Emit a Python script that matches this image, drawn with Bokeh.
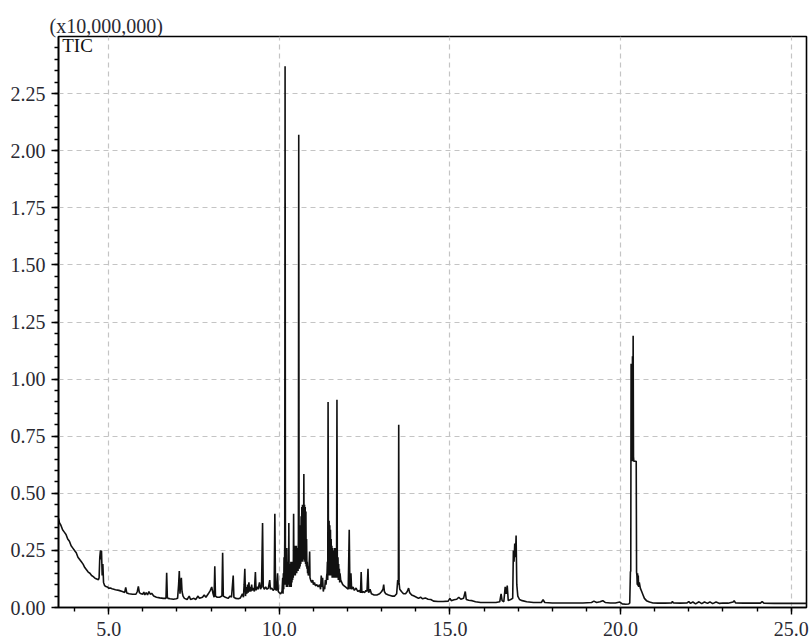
from bokeh.plotting import figure
from bokeh.models import FixedTicker, NumeralTickFormatter, Label, Range1d, ColumnDataSource, Title
from bokeh.embed import file_html
from bokeh.resources import INLINE

# ---- axis ticks / labels ----
x_major = [5, 10, 15, 20, 25]
x_minor = [4, 5, 6, 7, 8, 9, 10, 11, 12, 13, 14, 15, 16, 17, 18, 19, 20, 21, 22, 23, 24, 25]
y_major = [0.0, 0.25, 0.5, 0.75, 1.0, 1.25, 1.5, 1.75, 2.0, 2.25]
y_minor = [0.0, 0.05, 0.1, 0.15, 0.2, 0.25, 0.3, 0.35, 0.4, 0.45, 0.5, 0.55, 0.6, 0.65, 0.7,
           0.75, 0.8, 0.85, 0.9, 0.95, 1.0, 1.05, 1.1, 1.15, 1.2, 1.25, 1.3, 1.35, 1.4, 1.45,
           1.5, 1.55, 1.6, 1.65, 1.7, 1.75, 1.8, 1.85, 1.9, 1.95, 2.0, 2.05, 2.1, 2.15, 2.2,
           2.25, 2.3, 2.35, 2.4, 2.45]
scale_text = "(x10,000,000)"
trace_name = "TIC"

# ---- chromatogram (retention time in min, intensity in units of 1e7) ----
rt_a = [3.53, 3.56, 3.60, 3.65, 3.70, 3.75, 3.80, 3.85, 3.90, 3.95,
        4.00, 4.05, 4.10, 4.15, 4.20, 4.25, 4.30, 4.35, 4.40, 4.45,
        4.50, 4.55, 4.60, 4.65, 4.70, 4.72, 4.74, 4.76, 4.78, 4.79,
        4.81, 4.83, 4.85, 4.88, 4.92, 4.96, 5.00]
tic_a = [0.39, 0.37, 0.36, 0.34, 0.33, 0.32, 0.30, 0.29, 0.27, 0.26,
         0.25, 0.24, 0.22, 0.21, 0.20, 0.19, 0.175, 0.165, 0.155, 0.15,
         0.14, 0.135, 0.128, 0.125, 0.122, 0.13, 0.22, 0.25, 0.21, 0.25,
         0.14, 0.19, 0.11, 0.096, 0.092, 0.09, 0.085]

rt_b = [5.05, 5.10, 5.20, 5.30, 5.40, 5.47, 5.50, 5.53, 5.60, 5.70,
        5.80, 5.84, 5.87, 5.90, 5.95, 6.00, 6.03, 6.06, 6.10, 6.14,
        6.18, 6.22, 6.26, 6.32, 6.40, 6.50, 6.60, 6.68, 6.70, 6.72,
        6.74, 6.80, 6.90, 6.98]
tic_b = [0.085, 0.082, 0.078, 0.075, 0.07, 0.066, 0.088, 0.064, 0.06, 0.058,
         0.058, 0.07, 0.092, 0.065, 0.06, 0.058, 0.068, 0.055, 0.065, 0.055,
         0.07, 0.058, 0.062, 0.05, 0.045, 0.042, 0.04, 0.04, 0.152, 0.045,
         0.04, 0.038, 0.036, 0.038]

rt_c = [7.02, 7.05, 7.07, 7.09, 7.11, 7.13, 7.15, 7.18, 7.22, 7.30,
        7.36, 7.40, 7.50, 7.55, 7.62, 7.66, 7.75, 7.80, 7.85, 7.92,
        7.98, 8.02, 8.06, 8.09, 8.11, 8.13, 8.18, 8.25, 8.32, 8.34,
        8.36, 8.42, 8.50, 8.56, 8.60, 8.65, 8.67, 8.72, 8.80, 8.86,
        8.92, 8.95, 8.97, 8.99, 9.01, 9.03, 9.05, 9.07, 9.09, 9.11,
        9.13, 9.15, 9.17, 9.19, 9.21, 9.24, 9.27, 9.30, 9.32, 9.35,
        9.38, 9.42, 9.45, 9.48, 9.51, 9.53, 9.56, 9.60, 9.64, 9.68,
        9.72, 9.74, 9.78, 9.82, 9.85, 9.87, 9.89, 9.92, 9.95, 9.97,
        10.00, 10.04, 10.08]
tic_c = [0.04, 0.10, 0.16, 0.06, 0.10, 0.13, 0.07, 0.05, 0.04, 0.035,
         0.05, 0.035, 0.04, 0.035, 0.05, 0.04, 0.045, 0.055, 0.045, 0.06,
         0.075, 0.09, 0.06, 0.045, 0.18, 0.05, 0.045, 0.045, 0.05, 0.24,
         0.05, 0.045, 0.04, 0.05, 0.045, 0.14, 0.045, 0.04, 0.038, 0.042,
         0.06, 0.045, 0.10, 0.17, 0.05, 0.09, 0.06, 0.10, 0.065, 0.11,
         0.07, 0.09, 0.07, 0.10, 0.075, 0.085, 0.07, 0.155, 0.075, 0.09,
         0.08, 0.11, 0.08, 0.09, 0.37, 0.09, 0.08, 0.09, 0.08, 0.085,
         0.12, 0.08, 0.085, 0.075, 0.08, 0.41, 0.08, 0.075, 0.15, 0.07,
         0.065, 0.06, 0.07]

rt_d = [10.10, 10.11, 10.12, 10.13, 10.14, 10.15, 10.16, 10.17, 10.18, 10.19,
        10.20, 10.21, 10.22, 10.23, 10.24, 10.25, 10.26, 10.27, 10.28, 10.29,
        10.30, 10.31, 10.32, 10.33, 10.34, 10.35, 10.36, 10.37, 10.38, 10.39,
        10.40, 10.41, 10.42, 10.43, 10.44, 10.45, 10.46, 10.47, 10.48, 10.49,
        10.50, 10.51, 10.52, 10.53, 10.54, 10.55, 10.56, 10.57, 10.58, 10.59,
        10.60, 10.61, 10.62, 10.63, 10.64, 10.65, 10.66, 10.67, 10.68, 10.69,
        10.70, 10.71, 10.72, 10.73, 10.74, 10.75, 10.76, 10.77, 10.78, 10.79,
        10.80, 10.81, 10.82, 10.83, 10.84, 10.85, 10.87, 10.89, 10.90, 10.92,
        10.95, 10.98]
tic_d = [0.13, 0.06, 0.15, 0.08, 0.22, 0.10, 0.30, 2.37, 0.26, 0.10,
         0.24, 0.09, 0.26, 0.10, 0.20, 0.09, 0.18, 0.10, 0.37, 0.10,
         0.17, 0.09, 0.19, 0.10, 0.20, 0.09, 0.16, 0.11, 0.20, 0.12,
         0.18, 0.13, 0.41, 0.14, 0.24, 0.15, 0.27, 0.14, 0.25, 0.16,
         0.27, 0.15, 0.24, 0.17, 0.26, 0.16, 0.30, 2.07, 0.33, 0.17,
         0.36, 0.18, 0.35, 0.19, 0.40, 0.20, 0.44, 0.21, 0.45, 0.20,
         0.43, 0.22, 0.585, 0.21, 0.45, 0.20, 0.44, 0.19, 0.42, 0.18,
         0.30, 0.17, 0.20, 0.15, 0.18, 0.14, 0.16, 0.245, 0.13, 0.12,
         0.11, 0.12]

rt_e = [11.00, 11.03, 11.06, 11.10, 11.14, 11.18, 11.21, 11.23, 11.25, 11.27,
        11.29, 11.31, 11.33, 11.35, 11.37, 11.39]
tic_e = [0.10, 0.11, 0.095, 0.10, 0.09, 0.10, 0.08, 0.14, 0.09, 0.13,
         0.07, 0.09, 0.08, 0.12, 0.10, 0.14]

rt_f = [11.40, 11.41, 11.42, 11.43, 11.44, 11.45, 11.46, 11.47, 11.48, 11.49,
        11.50, 11.51, 11.52, 11.53, 11.54, 11.55, 11.56, 11.57, 11.58, 11.59,
        11.60, 11.61, 11.62, 11.63, 11.64, 11.65, 11.66, 11.67, 11.68, 11.69,
        11.70, 11.71, 11.72, 11.73, 11.74, 11.75, 11.76, 11.77, 11.78, 11.80,
        11.83, 11.86, 11.90, 11.94, 11.98]
tic_f = [0.15, 0.20, 0.12, 0.90, 0.30, 0.14, 0.38, 0.15, 0.36, 0.14,
         0.34, 0.15, 0.30, 0.14, 0.27, 0.13, 0.26, 0.14, 0.24, 0.13,
         0.25, 0.14, 0.26, 0.13, 0.24, 0.14, 0.26, 0.13, 0.27, 0.91,
         0.22, 0.13, 0.22, 0.12, 0.19, 0.12, 0.17, 0.11, 0.15, 0.12,
         0.11, 0.10, 0.095, 0.09, 0.085]

rt_g = [12.02, 12.05, 12.07, 12.10, 12.12, 12.16, 12.20, 12.25, 12.30, 12.35,
        12.38, 12.40, 12.42, 12.46, 12.50, 12.54, 12.57, 12.60, 12.62, 12.66,
        12.70, 12.78, 12.86, 12.94, 13.00, 13.04, 13.06, 13.08, 13.12, 13.20,
        13.30, 13.38, 13.44, 13.47, 13.49, 13.50, 13.51, 13.53, 13.58, 13.64,
        13.70, 13.75, 13.79, 13.82, 13.88, 13.95]
tic_g = [0.08, 0.34, 0.08, 0.15, 0.08, 0.09, 0.075, 0.085, 0.07, 0.075,
         0.065, 0.155, 0.065, 0.07, 0.065, 0.075, 0.07, 0.17, 0.065, 0.08,
         0.06, 0.055, 0.055, 0.06, 0.07, 0.08, 0.10, 0.07, 0.06, 0.055,
         0.05, 0.05, 0.06, 0.12, 0.10, 0.80, 0.11, 0.08, 0.07, 0.06,
         0.06, 0.07, 0.085, 0.065, 0.055, 0.05]

rt_h = [14.02, 14.08, 14.14, 14.20, 14.28, 14.36, 14.44, 14.52, 14.65, 14.80,
        14.95, 15.00, 15.04, 15.12, 15.20, 15.26, 15.32, 15.40, 15.45, 15.48,
        15.55, 15.65, 15.75, 15.90, 16.05, 16.20, 16.35, 16.46, 16.50, 16.53,
        16.58, 16.62, 16.65, 16.68, 16.71, 16.78, 16.84, 16.86, 16.88, 16.90,
        16.92, 16.94, 16.96, 16.99, 17.04, 17.12, 17.25, 17.45, 17.68, 17.73,
        17.78, 18.00, 18.30, 18.60, 18.90, 19.15, 19.22, 19.30, 19.40, 19.48,
        19.55, 19.70, 19.85, 19.98, 20.05, 20.15, 20.24, 20.27]
tic_h = [0.045, 0.04, 0.045, 0.038, 0.042, 0.036, 0.035, 0.028, 0.026, 0.026,
         0.028, 0.04, 0.03, 0.034, 0.036, 0.045, 0.036, 0.04, 0.07, 0.035,
         0.032, 0.03, 0.025, 0.022, 0.022, 0.022, 0.022, 0.025, 0.06, 0.03,
         0.025, 0.09, 0.06, 0.096, 0.03, 0.035, 0.04, 0.25, 0.20, 0.28,
         0.22, 0.315, 0.10, 0.05, 0.035, 0.03, 0.025, 0.022, 0.022, 0.034,
         0.022, 0.02, 0.02, 0.02, 0.02, 0.022, 0.028, 0.022, 0.025, 0.03,
         0.022, 0.02, 0.02, 0.024, 0.016, 0.014, 0.015, 0.02]

rt_i = [20.29, 20.30, 20.31, 20.32, 20.33, 20.34, 20.35, 20.36, 20.37, 20.38,
        20.39, 20.42, 20.46, 20.47, 20.48, 20.49, 20.50, 20.51, 20.52, 20.53,
        20.55, 20.58, 20.62, 20.66, 20.70, 20.76, 20.85, 20.95, 21.10, 21.30,
        21.50, 21.52, 21.55, 21.75, 21.95, 22.00, 22.05, 22.12, 22.20, 22.30,
        22.38, 22.46, 22.55, 22.62, 22.70, 22.80, 22.90, 23.00, 23.15, 23.30,
        23.33, 23.37, 23.60, 23.90, 24.10, 24.15, 24.20, 24.50, 24.80, 25.10,
        25.45]
tic_i = [0.155, 0.16, 1.067, 0.64, 1.05, 0.66, 1.10, 0.64, 1.19, 0.66,
         0.64, 0.64, 0.64, 0.155, 0.14, 0.10, 0.15, 0.095, 0.14, 0.09,
         0.11, 0.085, 0.07, 0.055, 0.04, 0.03, 0.024, 0.02, 0.019, 0.019,
         0.02, 0.027, 0.02, 0.019, 0.02, 0.026, 0.018, 0.024, 0.016, 0.025,
         0.017, 0.024, 0.018, 0.025, 0.017, 0.024, 0.018, 0.02, 0.019, 0.024,
         0.03, 0.02, 0.019, 0.019, 0.019, 0.026, 0.019, 0.018, 0.018, 0.018,
         0.018]

segments = [(rt_a, tic_a), (rt_b, tic_b), (rt_c, tic_c), (rt_d, tic_d), (rt_e, tic_e),
            (rt_f, tic_f), (rt_g, tic_g), (rt_h, tic_h), (rt_i, tic_i)]
rt, tic = [], []
for r, t in segments:
    assert len(r) == len(t), (r[0], len(r), len(t))
    rt.extend(r)
    tic.extend(t)

source = ColumnDataSource(data=dict(rt=rt, tic=tic))

FONT = "Liberation Serif"

p = figure(frame_width=748, frame_height=571,
           min_border_left=58, min_border_right=3, min_border_top=36, min_border_bottom=30,
           x_range=Range1d(3.53, 25.45), y_range=Range1d(0, 2.5),
           output_backend="svg", toolbar_location=None,
           background_fill_color="white", border_fill_color="white")

# scale factor shown above the frame, as the plot title
p.title = Title(text=scale_text, align="left", offset=-9, standoff=0,
                text_font=FONT, text_font_size="20px", text_font_style="normal",
                text_color="#2a2a33")

p.line("rt", "tic", source=source, line_color="#111111", line_width=1.6)

# axes
p.xaxis.ticker = FixedTicker(ticks=x_major, minor_ticks=x_minor)
p.yaxis.ticker = FixedTicker(ticks=y_major, minor_ticks=y_minor)
p.xaxis.formatter = NumeralTickFormatter(format="0.0")
p.yaxis.formatter = NumeralTickFormatter(format="0.00")
for ax in (p.xaxis, p.yaxis):
    ax.axis_line_color = "black"
    ax.axis_line_width = 1.6
    ax.major_tick_line_color = "black"
    ax.major_tick_line_width = 1.4
    ax.minor_tick_line_color = "black"
    ax.minor_tick_line_width = 1.4
    ax.major_tick_out = 7
    ax.major_tick_in = 0
    ax.minor_tick_out = 4
    ax.minor_tick_in = 0
    ax.major_label_text_font = FONT
    ax.major_label_text_font_size = "20px"
    ax.major_label_text_color = "#2a2a33"
p.xaxis.major_label_standoff = 7
p.yaxis.major_label_standoff = 6

# grid
for g in (p.xgrid, p.ygrid):
    g.grid_line_color = "#c4c4c4"
    g.grid_line_dash = "5 4"
    g.grid_line_width = 1.2

p.outline_line_color = "black"
p.outline_line_width = 1.6
p.outline_line_alpha = 1.0

# trace name inside the frame
p.add_layout(Label(x=3.64, y=2.5, y_offset=2, text=trace_name, text_font=FONT,
                   text_font_size="19px", text_color="#111111", text_baseline="top"))

open("out.html", "w").write(file_html(p, INLINE))
